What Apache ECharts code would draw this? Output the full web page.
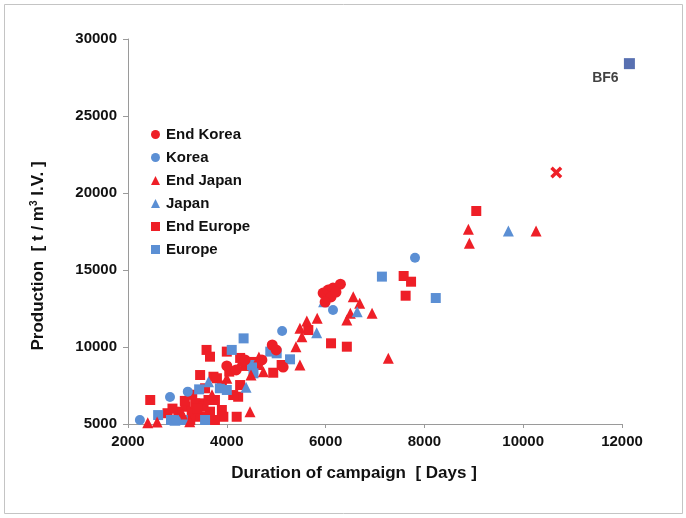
<!DOCTYPE html>
<html>
<head>
<meta charset="utf-8">
<script src="https://cdn.jsdelivr.net/npm/echarts@6/dist/echarts.min.js"></script>
<style>
html,body{margin:0;padding:0;background:#fff;}
#c{width:686px;height:518px;}
</style>
</head>
<body>
<div id="c"></div>
<script>
// ---- data (x = duration [days], y = production [t/m3 I.V.]) ----
const seriesNames = ['End Korea', 'Korea', 'End Japan', 'Japan', 'End Europe', 'Europe'];

const endKorea = [
  [5950,13500],[6050,13700],[6150,13830],[6300,14080],[6110,13250],[5990,12920],[6210,13570],
  [4920,10130],[5000,9810],[4000,8770],[5140,8700],[4710,9160],[4370,9160],[4190,8510]
];
const korea = [
  [2240,5260],[2850,6750],[3210,7100],[5120,11040],[6150,12400],[7810,15800],[2970,5260]
];
const endJapan = [
  [2400,5080],[2590,5130],[4470,5800],[4740,8400],[5480,8830],[5400,10020],[5520,10670],
  [5480,11210],[5620,11690],[5830,11860],[6430,11750],[6500,12190],[6560,13270],[6690,12840],
  [6940,12190],[7270,9270],[8890,17640],[8910,16730],[10260,17530],[4000,7970],[4490,8180],
  [4650,9350],[4300,9100],[3250,5150],[3700,6900],[3100,5650]
];
const japan = [
  [3630,7750],[4390,7380],[5820,10930],[5960,12940],[6640,12290],[9700,17530],[2950,5250]
];
const endEurope = [
  [2450,6560],[3590,9810],[3660,9370],[4000,9700],[3730,8070],[3490,6340],[3760,6560],
  [3900,5910],[4230,6770],[3930,5470],[4200,5470],[3760,5260],[5110,8830],[4940,8330],
  [5650,11100],[6110,10240],[6430,10020],[7580,14610],[7730,14240],[7620,13330],[9050,18830],
  [3020,5800],[3160,6120],[3290,5800],[3360,6340],[3530,6120],[3630,6560],[3420,5470],
  [3660,5800],[3050,5370],[3260,5260],[3560,5470],[4270,9290],[4510,9030],[4630,8830],
  [4370,8770],[3800,7970],[3560,7320],[4130,6880],[4270,7530],[3460,8180],[3300,6900],
  [3150,6500],[2900,6000],[2800,5700],[3400,6000],[3900,7500],[4050,8400]
];
const europe = [
  [2610,5580],[3440,7250],[3560,5260],[4340,10560],[4100,9810],[4510,8830],[4880,9700],
  [5010,9590],[5280,9200],[7140,14570],[8230,13180],[3110,5260],[2870,5260],[3860,7320],
  [4000,7210],[4540,8290]
];
const outlierX = [[10670,21330]];
const bf6 = [[12150,28400]];
const bf6Label = 'BF6';

const xTicks = [2000, 4000, 6000, 8000, 10000, 12000];
const yTicks = [5000, 10000, 15000, 20000, 25000, 30000];
const xName = 'Duration of campaign  [ Days ]';

// ---- styles ----
const RED = '#EE1F27';
const BLUE = '#5B8FD4';
const DARK = '#2E4C9E';
const FONT = '"Liberation Sans", Arial, sans-serif';

const chart = echarts.init(document.getElementById('c'), null, {renderer: 'canvas'});

function sc(name, data, symbol, color, size) {
  return {
    name: name, type: 'scatter', data: data, symbol: symbol, symbolSize: size,
    itemStyle: {color: color, opacity: 1}, clip: false, animation: false
  };
}

const icons = ['circle', 'circle', 'triangle', 'triangle', 'rect', 'rect'];

chart.setOption({
  backgroundColor: '#fff',
  animation: false,
  grid: {left: 128, right: 64, top: 39, bottom: 94, containLabel: false},
  xAxis: {
    type: 'value', min: xTicks[0], max: xTicks[xTicks.length - 1], interval: 2000,
    axisLine: {lineStyle: {color: '#9a9a9a', width: 1}},
    axisTick: {show: true, inside: false, length: 4, lineStyle: {color: '#9a9a9a'}},
    axisLabel: {color: '#111', fontSize: 15, fontWeight: 'bold', fontFamily: FONT, margin: 10,
      formatter: v => String(v)},
    splitLine: {show: false}
  },
  yAxis: {
    type: 'value', min: yTicks[0], max: yTicks[yTicks.length - 1], interval: 5000,
    axisLine: {show: true, lineStyle: {color: '#9a9a9a', width: 1}},
    axisTick: {show: true, inside: false, length: 5, lineStyle: {color: '#9a9a9a'}},
    axisLabel: {color: '#111', fontSize: 15, fontWeight: 'bold', fontFamily: FONT, margin: 11,
      formatter: v => String(v)},
    splitLine: {show: false}
  },
  legend: {
    orient: 'vertical', left: 146, top: 122, itemWidth: 9, itemHeight: 9, itemGap: 8,
    data: seriesNames.map((n, i) => ({name: n, icon: icons[i]})),
    textStyle: {color: '#111', fontSize: 15, fontWeight: 'bold', fontFamily: FONT, padding: [0, 0, 0, 1]}
  },
  series: [
    sc(seriesNames[4], endEurope, 'rect', RED, 10),
    sc(seriesNames[5], europe, 'rect', BLUE, 10),
    sc(seriesNames[2], endJapan, 'triangle', RED, 11),
    sc(seriesNames[3], japan, 'triangle', BLUE, 11),
    sc(seriesNames[0], endKorea, 'circle', RED, 11),
    sc(seriesNames[1], korea, 'circle', BLUE, 10),
    {
      name: 'x', type: 'scatter', data: outlierX, clip: false,
      symbol: 'path://M2,0 L5,3 L8,0 L10,2 L7,5 L10,8 L8,10 L5,7 L2,10 L0,8 L3,5 L0,2 Z',
      symbolSize: 12, itemStyle: {color: RED, opacity: 1}
    },
    {
      name: 'BF6', type: 'scatter', data: bf6, clip: false, symbol: 'rect', symbolSize: 11,
      itemStyle: {color: DARK},
      label: {show: true, formatter: bf6Label, position: 'bottom', distance: 2, offset: [-24, 0],
        color: '#111', fontSize: 14, fontWeight: 'bold', fontFamily: FONT}
    }
  ],
  graphic: [
    {type: 'rect', shape: {x: 4.5, y: 4.5, width: 678, height: 509},
     style: {fill: 'none', stroke: '#c4c4c4', lineWidth: 1}, silent: true, z: -1},
    {type: 'text', x: 354, y: 473,
     style: {text: xName, fill: '#111', fontSize: 17, fontWeight: 'bold', fontFamily: FONT,
       align: 'center', verticalAlign: 'middle'}},
    {type: 'text', x: 38, y: 256, rotation: Math.PI / 2,
     style: {text: '{a|Production  [ t / m}{s|3}{a| I.V. ]}', fill: '#111', align: 'center', verticalAlign: 'middle',
       rich: {
         a: {fontSize: 17, fontWeight: 'bold', fontFamily: FONT, fill: '#111'},
         s: {fontSize: 10, fontWeight: 'bold', fontFamily: FONT, fill: '#111', verticalAlign: 'top', padding: [0, 0, 6, 0]}
       }}}
  ]
});
</script>
</body>
</html>
